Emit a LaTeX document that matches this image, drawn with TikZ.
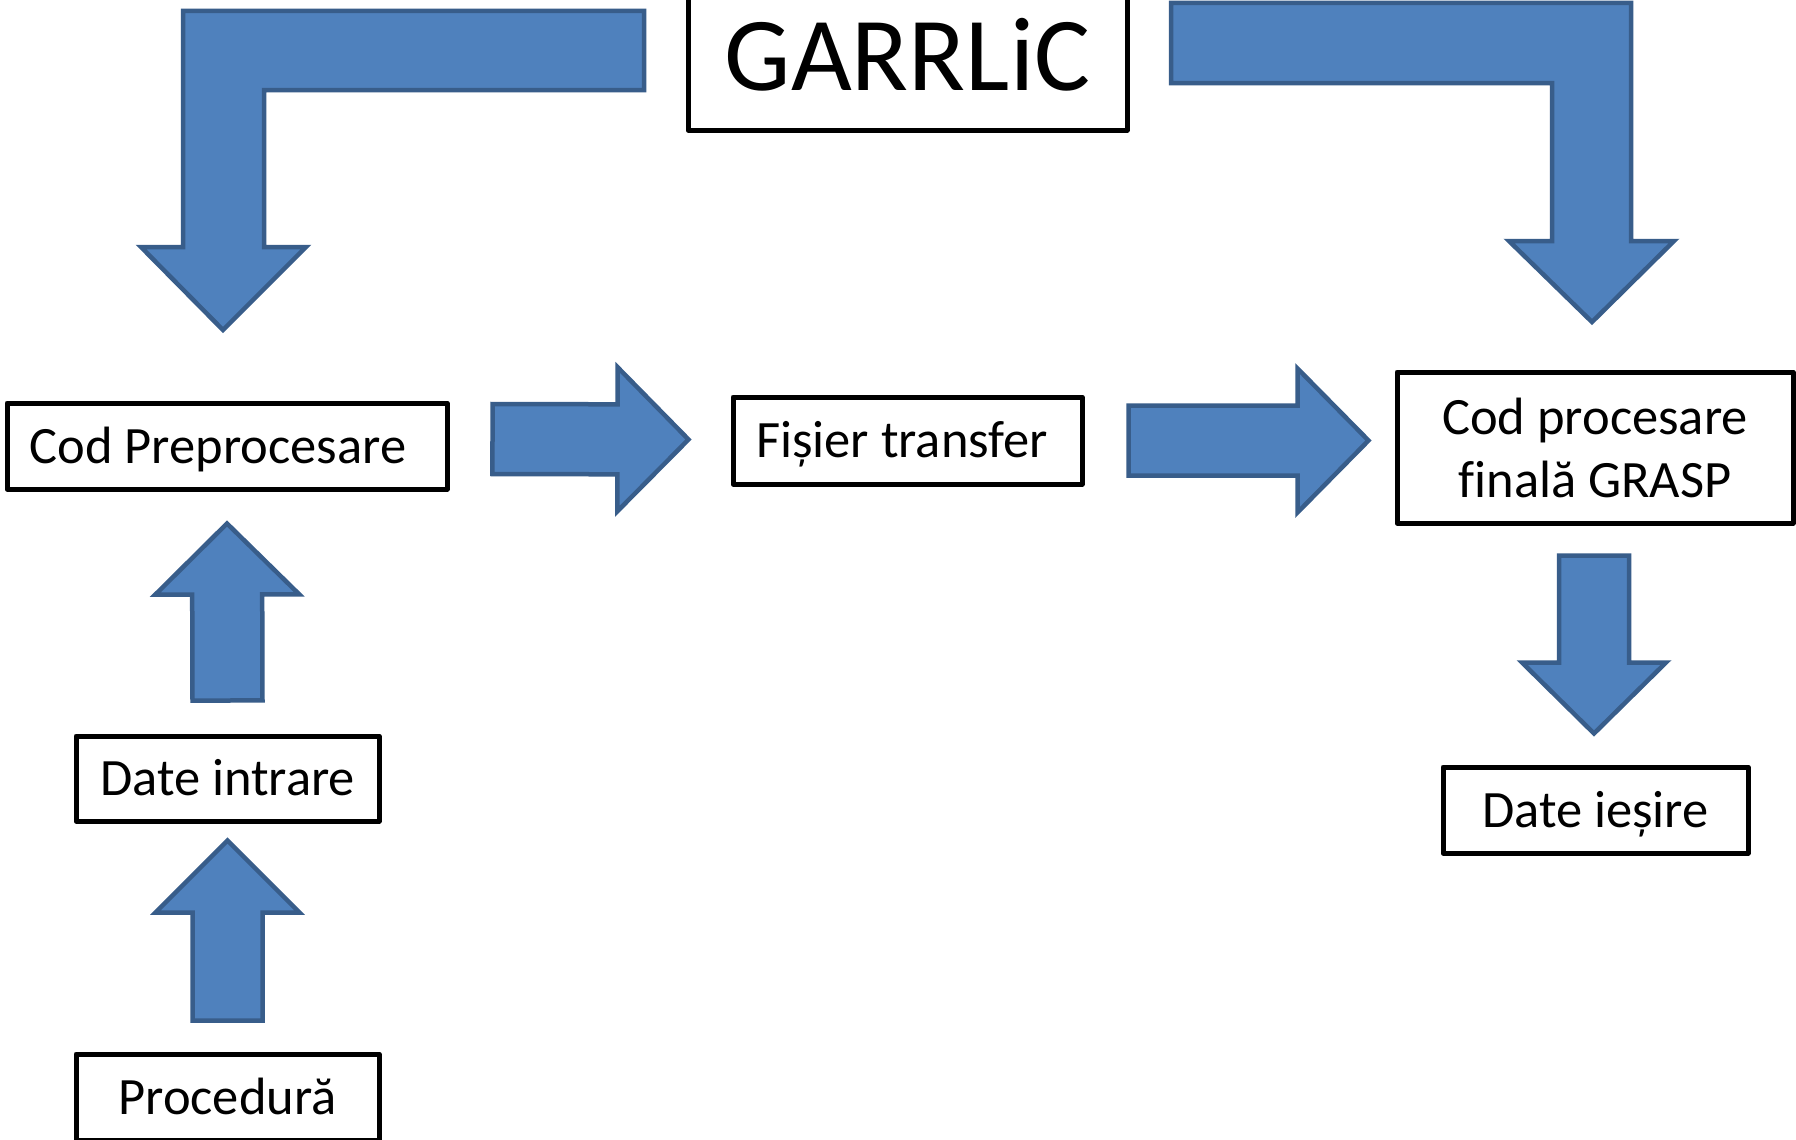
\documentclass[tikz,border=0pt]{standalone}
\usepackage{fontspec}
\setmainfont{Carlito}[Ligatures=CommonOff]
\usetikzlibrary{calc}

\definecolor{arrowfill}{HTML}{4F81BD}
\definecolor{arrowline}{HTML}{385D8A}

\tikzset{
  boxbase/.style={draw=black, line width=5pt, line join=round, fill=white,
    inner sep=0pt, font=\fontsize{52.5}{63}\selectfont},
  box/.style={boxbase, text height=34pt, text depth=0pt},
  blockarrow/.style={fill=arrowfill, draw=arrowline, line width=4.5pt, line join=miter},
}

% straight block arrow: start, tip, half shaft width, half head width, head length
\newcommand{\blockarr}[5]{%
  \coordinate (ba-s) at #1;
  \coordinate (ba-t) at #2;
  \coordinate (ba-h) at ($(ba-t)!#5!(ba-s)$);
  \draw[blockarrow]
    ($(ba-s)!#3!90:(ba-t)$) -- ($(ba-h)!#3!-90:(ba-s)$) -- ($(ba-h)!#4!-90:(ba-s)$)
    -- (ba-t) -- ($(ba-h)!#4!90:(ba-s)$) -- ($(ba-h)!#3!90:(ba-s)$)
    -- ($(ba-s)!#3!-90:(ba-t)$) -- cycle;}

\begin{document}
\begin{tikzpicture}[x=1pt, y=-1pt]
  \useasboundingbox (0,0) rectangle (1796,1140);
  \fill[white] (0,0) rectangle (1796,1140);
  \clip (0,0) rectangle (1796,1140);

  % boxes
  \node[box, minimum width=439pt, minimum height=148pt, text height=68pt,
        font=\fontsize{105}{126}\selectfont] (gar) at (907.5,56) {GARRLiC};
  \node[box, minimum width=440pt, minimum height=86pt]
        (pre) at (227,446) {Cod Preprocesare\hspace*{18pt}};
  \node[box, minimum width=349pt, minimum height=87pt]
        (fis) at (907.5,440.5) {Fișier transfer\hspace*{11pt}};
  \node[boxbase, minimum width=396pt, minimum height=151pt, align=center]
        (grasp) at (1595,447.5) {Cod procesare\\finală GRASP};
  \node[box, minimum width=303pt, minimum height=85pt] (din) at (227.5,778.5) {Date intrare};
  \node[box, minimum width=303pt, minimum height=86pt] (proc) at (227.5,1097) {Procedură};
  \node[box, minimum width=305pt, minimum height=86pt] (dies) at (1595.5,810) {Date ieșire};

  % bent arrows from GARRLiC
  \draw[blockarrow] (644,11) -- (183,11) -- (183,247) -- (141,247) -- (223,330)
    -- (306,247) -- (264,247) -- (264,90) -- (644,90) -- cycle;
  \draw[blockarrow] (1171,3) -- (1631,3) -- (1631,241) -- (1674,241) -- (1592,322)
    -- (1509,241) -- (1552,241) -- (1552,83) -- (1171,83) -- cycle;

  % straight arrows between boxes
  \blockarr{($(din.north)+(0,-33)$)}{($(pre.south)+(0,32)$)}{35pt}{72pt}{71pt}
  \blockarr{($(proc.north)+(0,-31)$)}{($(din.south)+(0,17)$)}{35pt}{72pt}{72pt}
  \blockarr{($(pre.east)+(43,-7)$)}{($(fis.west)+(-42,-1)$)}{35pt}{72pt}{71pt}
  \blockarr{($(fis.east)+(44,0)$)}{($(grasp.west)+(-26,-7)$)}{35pt}{72pt}{71pt}
  \blockarr{($(grasp.south)+(-1,30)$)}{($(dies.north)+(-1.5,-31)$)}{35pt}{72pt}{71pt}
\end{tikzpicture}
\end{document}
